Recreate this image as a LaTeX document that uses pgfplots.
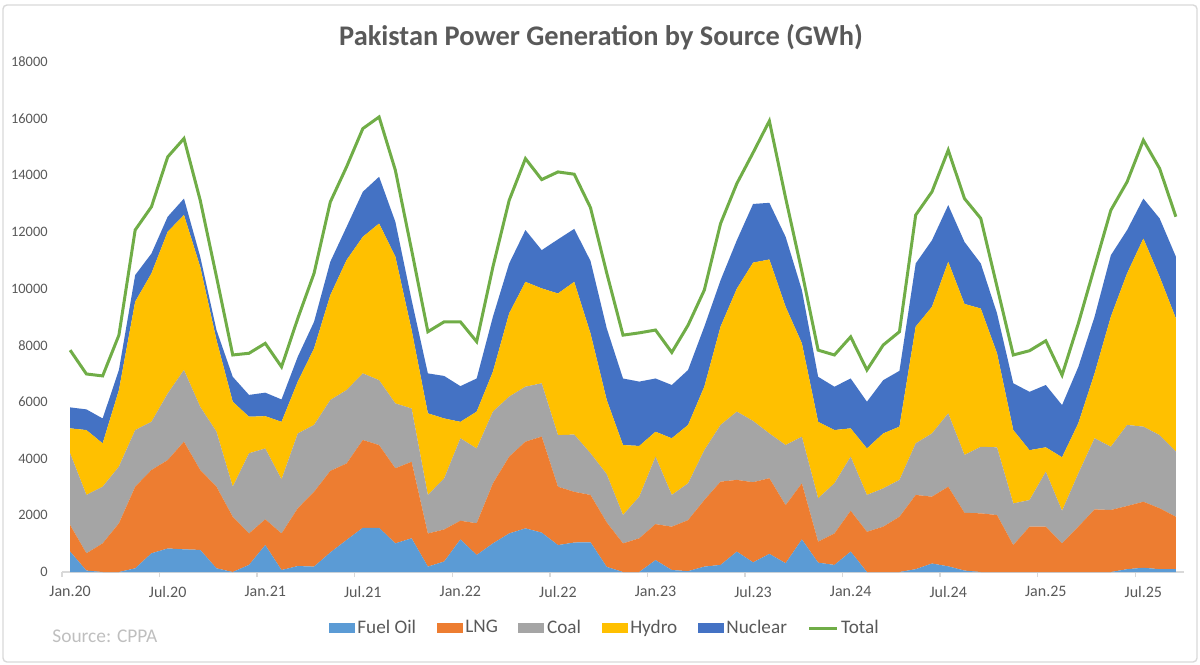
\documentclass[border=0pt]{standalone}
\usepackage{fontspec}
\setmainfont{Carlito}
\usepackage{pgfplots}
\pgfplotsset{compat=1.18}
\usepackage{pgfplotstable}
\definecolor{cFO}{HTML}{5B9BD5}
\definecolor{cLNG}{HTML}{ED7D31}
\definecolor{cCoal}{HTML}{A5A5A5}
\definecolor{cHyd}{HTML}{FFC000}
\definecolor{cNuc}{HTML}{4472C4}
\definecolor{cTot}{HTML}{70AD47}
\definecolor{cText}{HTML}{595959}
\definecolor{cAxis}{HTML}{D9D9D9}
\definecolor{cSrc}{HTML}{BFBFBF}
\pgfplotsset{
  myarea/.style={legend image code/.code={\fill[##1] (0bp,-2.5bp) rectangle (13bp,2.5bp);}},
  myline/.style={legend image code/.code={\draw[##1] (0bp,0bp) -- (14bp,0bp);}},
}
\pgfplotstableread{
i fo lng coal hydro nuc total
0 720 940 2530 880 740 7830
1 50 610 2060 2290 730 6990
2 0 1010 2000 1530 880 6920
3 0 1720 2000 2700 710 8360
4 130 2880 2000 4530 940 12070
5 660 2940 1700 5240 700 12890
6 830 3120 2350 5710 530 14650
7 800 3800 2530 5470 580 15300
8 780 2820 2230 4940 360 13120
9 130 2880 1940 3240 350 10420
10 0 1950 1060 3000 880 7660
11 250 1110 2830 1290 770 7720
12 950 910 2500 1140 830 8070
13 70 1290 1910 2030 790 7240
14 210 2040 2640 1830 880 8950
15 190 2640 2360 2700 940 10540
16 690 2880 2500 3700 1180 13060
17 1130 2700 2590 4590 1170 14300
18 1560 3100 2350 4820 1590 15650
19 1560 2920 2290 5530 1650 16060
20 1010 2650 2290 5180 1230 14180
21 1190 2700 1880 2770 1060 11360
22 190 1170 1360 2880 1410 8480
23 370 1130 1800 2120 1500 8830
24 1150 660 2910 580 1260 8830
25 600 1120 2640 1300 1170 8130
26 1010 2120 2530 1410 1940 10770
27 1360 2710 2120 2940 1760 13120
28 1540 3060 1940 3700 1830 14590
29 1390 3390 1880 3350 1350 13850
30 950 2060 1820 5000 1910 14120
31 1040 1790 2020 5390 1870 14040
32 1050 1670 1470 4230 2560 12860
33 180 1570 1700 2620 2530 10550
34 0 1010 1000 2470 2350 8360
35 0 1190 1470 1790 2270 8440
36 420 1270 2380 880 1880 8540
37 70 1530 1120 2000 1880 7750
38 30 1800 1300 2060 1940 8710
39 190 2350 1760 2240 2120 9950
40 250 2940 2000 3470 1640 12300
41 720 2530 2410 4340 1710 13710
42 340 2830 2160 5590 2070 14800
43 640 2670 1580 6140 2000 15920
44 310 2050 2120 4880 2470 13200
45 1150 1980 1645 3295 1880 10600
46 330 740 1530 2700 1590 7830
47 250 1110 1770 1880 1530 7660
48 720 1440 1910 1000 1760 8300
49 0 1420 1300 1640 1650 7130
50 0 1600 1350 1940 1880 8010
51 0 1950 1300 1880 1970 8480
52 100 2620 1820 4120 2230 12600
53 300 2360 2230 4470 2350 13420
54 200 2810 2590 5350 2000 14890
55 50 2040 2040 5330 2190 13180
56 0 2070 2350 4880 1590 12480
57 0 2010 2390 3320 1410 10070
58 0 950 1470 2590 1650 7660
59 0 1600 940 1760 2060 7810
60 0 1600 1940 860 2200 8160
61 0 1010 1150 1890 1840 6950
62 0 1600 1880 1770 1990 8770
63 0 2210 2510 2290 2000 10770
64 0 2190 2230 4590 2170 12770
65 100 2230 2860 5350 1530 13770
66 150 2330 2650 6640 1410 15240
67 100 2150 2580 5590 2060 14240
68 100 1850 2300 4700 2180 12540
}\data
\begin{document}
\begin{tikzpicture}[x=1bp,y=1bp]
\path[use as bounding box] (0,0) rectangle (600,332);
\draw[color=cAxis, line width=0.7bp, rounded corners=2bp] (1.5,1) rectangle (598.5,329.5);
\node[font=\bfseries\fontsize{14.2bp}{17bp}\selectfont, text=cText] at (300.5,313.5) {Pakistan Power Generation by Source (GWh)};
\node[anchor=west, font=\fontsize{9.7bp}{11bp}\selectfont, text=cSrc, inner sep=0pt] at (26,14) {Source: CPPA};
\begin{axis}[
  at={(31bp,46bp)}, anchor=south west,
  scale only axis, width=561bp, height=255bp,
  xmin=-0.5, xmax=68.5, ymin=0, ymax=18000,
  axis x line*=bottom, axis y line*=left,
  x axis line style={draw=cAxis, line width=0.7bp},
  y axis line style={draw=none},
  xtick={0,6,...,66},
  xticklabels={Jan.20,Jul.20,Jan.21,Jul.21,Jan.22,Jul.22,Jan.23,Jul.23,Jan.24,Jul.24,Jan.25,Jul.25},
  minor xtick={-0.5,5.5,...,65.5},
  major tick length=0pt, minor tick length=2.5bp,
  tick align=outside,
  minor x tick style={draw=cAxis, line width=0.7bp},
  ytick={0,2000,...,18000},
  scaled y ticks=false,
  ytick style={draw=none},
  /pgf/number format/assume math mode=true,
  /pgf/number format/1000 sep={},
  xticklabel style={font=\fontsize{8bp}{9.6bp}\selectfont, text=cText, inner sep=0pt, anchor=north, yshift=-6.8bp},
  yticklabel style={font=\fontsize{7.2bp}{8.6bp}\selectfont, text=cText, inner sep=0pt, anchor=east, xshift=-7bp},
  stack plots=y,
  legend style={at={(0.4840,-0.1098)}, anchor=center, draw=none, fill=none,
    font=\fontsize{9.6bp}{11bp}\selectfont, text=cText,
    nodes={inner sep=1.3bp},
    /tikz/every even column/.append style={column sep=9bp}},
  legend columns=6,
  legend cell align=left,
]
\addplot[fill=cFO, draw=none, myarea] table[x=i,y=fo]{\data} \closedcycle;
\addplot[fill=cLNG, draw=none, myarea] table[x=i,y=lng]{\data} \closedcycle;
\addplot[fill=cCoal, draw=none, myarea] table[x=i,y=coal]{\data} \closedcycle;
\addplot[fill=cHyd, draw=none, myarea] table[x=i,y=hydro]{\data} \closedcycle;
\addplot[fill=cNuc, draw=none, myarea] table[x=i,y=nuc]{\data} \closedcycle;
\addplot[stack plots=false, draw=cTot, line width=1.5bp, myline] table[x=i,y=total]{\data};
\legend{Fuel Oil,LNG,Coal,Hydro,Nuclear,Total}
\end{axis}
\end{tikzpicture}
\end{document}
